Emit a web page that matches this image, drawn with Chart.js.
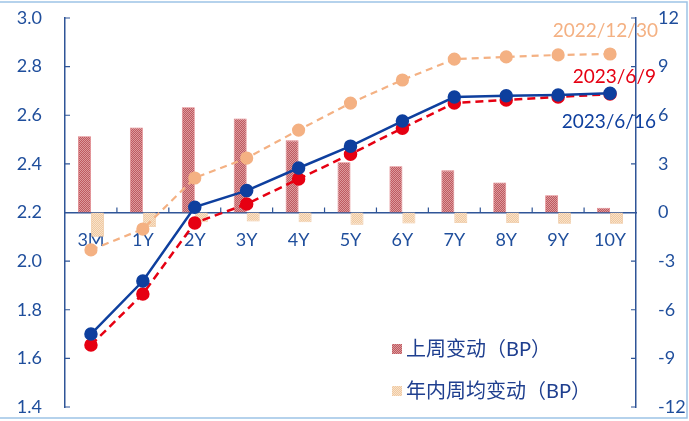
<!DOCTYPE html>
<html>
<head>
<meta charset="utf-8">
<script src="https://cdn.jsdelivr.net/npm/chart.js@4.4.0/dist/chart.umd.min.js"></script>
<style>
  html, body { margin: 0; padding: 0; background: #fff; }
  #wrap { width: 689px; height: 421px; position: relative; }
</style>
</head>
<body>
<div id="wrap"><canvas id="chart"></canvas></div>
<script>
// tenors and values
const tenors = ['3M', '1Y', '2Y', '3Y', '4Y', '5Y', '6Y', '7Y', '8Y', '9Y', '10Y'];
const yield0616 = [1.700, 1.918, 2.222, 2.290, 2.383, 2.473, 2.576, 2.675, 2.680, 2.683, 2.690];
const yield0609 = [1.655, 1.865, 2.157, 2.235, 2.338, 2.440, 2.547, 2.650, 2.663, 2.675, 2.687];
const yield1230 = [2.046, 2.132, 2.342, 2.424, 2.539, 2.650, 2.745, 2.831, 2.840, 2.848, 2.852];
const weekChange = [4.7, 5.25, 6.5, 5.8, 4.45, 3.1, 2.85, 2.6, 1.85, 1.07, 0.3];
const avgWeekChange = [-1.5, -0.9, -0.6, -0.55, -0.6, -0.75, -0.68, -0.65, -0.65, -0.7, -0.7];

const tickBlue = '#1f4e9c';
const axisBlue = '#2f5597';
const fontName = 'Lato, "Noto Sans CJK SC", sans-serif';

// dotted fill for the bars
function makePattern(c1, c2) {
    const p = document.createElement('canvas');
    p.width = 2; p.height = 2;
    const g = p.getContext('2d');
    g.fillStyle = c1; g.fillRect(0, 0, 2, 2);
    g.fillStyle = c2; g.fillRect(0, 0, 1, 1); g.fillRect(1, 1, 1, 1);
    return g.createPattern(p, 'repeat');
}
const redFill = makePattern('#bf5a5f', '#dc9a9e');
const beigeFill = makePattern('#f0c9a0', '#f8e2cb');

// keep the plot box where the reference has it
function noPad(s) {
    s.paddingTop = 0; s.paddingBottom = 0;
}

// inward tick marks, frame, legend and line labels
const extras = {
    id: 'extras',
    beforeDraw(chart) {
        const ctx = chart.ctx;
        ctx.save();
        ctx.strokeStyle = '#9dc3e6';
        ctx.lineWidth = 1.5;
        ctx.beginPath();
        ctx.moveTo(0, 2); ctx.lineTo(687, 2); ctx.lineTo(687, 418); ctx.lineTo(0, 418);
        ctx.stroke();
        ctx.restore();
    },
    afterDraw(chart) {
        const ctx = chart.ctx;
        const y = chart.scales.y, y1 = chart.scales.y1, x = chart.scales.x;
        ctx.save();
        ctx.strokeStyle = axisBlue;
        ctx.lineWidth = 1.2;
        ctx.beginPath();
        y.ticks.forEach(t => {
            const py = y.getPixelForValue(t.value);
            ctx.moveTo(y.right, py); ctx.lineTo(y.right + 5, py);
        });
        y1.ticks.forEach(t => {
            const py = y1.getPixelForValue(t.value);
            ctx.moveTo(y1.left, py); ctx.lineTo(y1.left - 5, py);
        });
        const zero = y1.getPixelForValue(0);
        for (let i = 1; i < tenors.length; i++) {
            const px = (x.getPixelForValue(i - 1) + x.getPixelForValue(i)) / 2;
            ctx.moveTo(px, zero); ctx.lineTo(px, zero - 5);
        }
        ctx.stroke();

        // legend
        ctx.font = '20px ' + fontName;
        ctx.textBaseline = 'middle';
        ctx.textAlign = 'left';
        ctx.fillStyle = redFill;
        ctx.fillRect(392, 344, 10, 10);
        ctx.fillStyle = beigeFill;
        ctx.fillRect(392, 386, 10, 10);
        ctx.fillStyle = '#1f3f8f';
        ctx.fillText(chart.data.datasets[3].label, 406, 350);
        ctx.fillText(chart.data.datasets[4].label, 406, 392);

        // line end labels
        ctx.font = '19px ' + fontName;
        ctx.textAlign = 'right';
        ctx.fillStyle = '#f4b183';
        ctx.fillText('2022/12/30', 658, 31);
        ctx.fillStyle = '#e60012';
        ctx.fillText('2023/6/9', 656, 77);
        ctx.fillStyle = '#0e3f9e';
        ctx.fillText('2023/6/16', 656, 122);
        ctx.restore();
    }
};

new Chart(document.getElementById('chart'), {
    type: 'bar',
    data: {
        labels: tenors,
        datasets: [
            {
                type: 'line', label: '2023/6/16', data: yield0616, yAxisID: 'y',
                borderColor: '#0e3f9e', backgroundColor: '#0e3f9e', borderWidth: 2.5,
                pointRadius: 5.5, pointHoverRadius: 5.5, order: 0
            },
            {
                type: 'line', label: '2023/6/9', data: yield0609, yAxisID: 'y',
                borderColor: '#e60012', backgroundColor: '#e60012', borderWidth: 2.5,
                borderDash: [8, 5], pointRadius: 5.5, pointHoverRadius: 5.5, order: 1
            },
            {
                type: 'line', label: '2022/12/30', data: yield1230, yAxisID: 'y',
                borderColor: '#f4b183', backgroundColor: '#f4b183', borderWidth: 2.2,
                borderDash: [7, 5], pointRadius: 5.5, pointHoverRadius: 5.5, order: 2
            },
            {
                label: '上周变动（BP）', data: weekChange, yAxisID: 'y1',
                backgroundColor: redFill, borderColor: '#e07b80', borderWidth: 0.8,
                categoryPercentage: 0.5, barPercentage: 1, order: 3
            },
            {
                label: '年内周均变动（BP）', data: avgWeekChange, yAxisID: 'y1',
                backgroundColor: beigeFill, borderColor: '#edc39a', borderWidth: 0.8,
                categoryPercentage: 0.5, barPercentage: 1, order: 4
            }
        ]
    },
    options: {
        responsive: true,
        maintainAspectRatio: false,
        animation: false,
        layout: { padding: { top: 18, bottom: 14, left: 0, right: 0 } },
        plugins: {
            legend: { display: false },
            tooltip: { enabled: false }
        },
        scales: {
            x: {
                position: { y1: 0 },
                grid: { display: false, drawTicks: false },
                border: { display: true, color: axisBlue, width: 1.5 },
                ticks: { color: tickBlue, font: { family: fontName, size: 18 }, padding: 17 },
                afterFit: s => { s.height = 0; }
            },
            y: {
                position: 'left',
                min: 1.4, max: 3.0,
                grid: { display: false, drawTicks: false },
                border: { display: true, color: axisBlue, width: 1.5 },
                ticks: {
                    stepSize: 0.2, color: tickBlue, padding: 23,
                    font: { family: fontName, size: 18 },
                    callback: v => v.toFixed(1)
                },
                afterFit: s => { s.width = 65; noPad(s); }
            },
            y1: {
                position: 'right',
                min: -12, max: 12,
                grid: { display: false, drawTicks: false },
                border: { display: true, color: axisBlue, width: 1.5 },
                ticks: { stepSize: 3, color: tickBlue, padding: 22, font: { family: fontName, size: 18 } },
                afterFit: s => { s.width = 53; noPad(s); }
            }
        }
    },
    plugins: [extras]
});
</script>
</body>
</html>
